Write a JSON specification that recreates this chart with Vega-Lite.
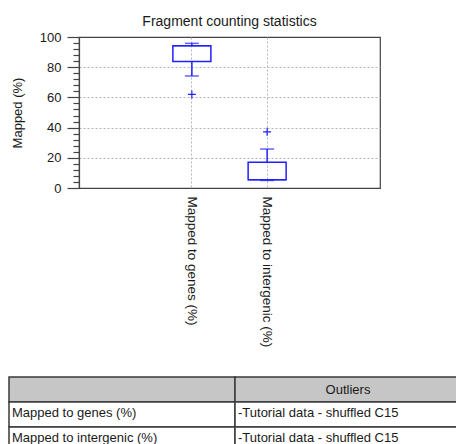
{
  "$schema": "https://vega.github.io/schema/vega-lite/v6.json",
  "padding": {"left": 8, "top": 14, "right": 0, "bottom": 0},
  "spacing": 28,
  "config": {
    "font": "Liberation Sans",
    "view": {"stroke": "#444", "strokeWidth": 1.2},
    "title": {"font": "Liberation Sans"}
  },
  "datasets": {
    "stats": [
      {"category": "Mapped to genes (%)", "lower": 74.2, "q1": 83.8, "median": 94.2, "q3": 94.2, "upper": 95.8},
      {"category": "Mapped to intergenic (%)", "lower": 5.0, "q1": 5.5, "median": 5.5, "q3": 17.0, "upper": 25.8}
    ],
    "outliers": [
      {"category": "Mapped to genes (%)", "value": 62.0},
      {"category": "Mapped to intergenic (%)", "value": 37.2}
    ],
    "table": [
      {"row": "header", "column": "name", "text": ""},
      {"row": "header", "column": "outliers", "text": "Outliers"},
      {"row": "genes", "column": "name", "text": "Mapped to genes (%)"},
      {"row": "genes", "column": "outliers", "text": "-Tutorial data - shuffled C15"},
      {"row": "intergenic", "column": "name", "text": "Mapped to intergenic (%)"},
      {"row": "intergenic", "column": "outliers", "text": "-Tutorial data - shuffled C15"}
    ]
  },
  "vconcat": [
    {
      "width": 301,
      "height": 151,
      "title": {"text": "Fragment counting statistics", "fontSize": 14, "fontWeight": "normal", "color": "#1a1a1a", "offset": 2},
      "encoding": {
        "x": {
          "field": "category", "type": "nominal",
          "scale": {"type": "band", "paddingInner": 0, "paddingOuter": 1, "domain": ["Mapped to genes (%)", "Mapped to intergenic (%)"]},
          "axis": {
            "title": null, "labelAngle": 90, "labelAlign": "left", "labelBaseline": "middle",
            "bandPosition": 0.5,
            "ticks": false, "labelPadding": 8, "domainColor": "#444", "domainWidth": 1.2,
            "grid": true, "gridDash": [2, 2], "gridColor": "#b5b5b5",
            "labelFontSize": 13.5, "labelColor": "#1a1a1a", "labelFont": "Liberation Sans"
          }
        }
      },
      "layer": [
        {
          "data": {"name": "stats"},
          "mark": {"type": "rule", "color": "#2020ff", "strokeWidth": 1.5},
          "encoding": {
            "y": {
              "field": "lower", "type": "quantitative", "title": "Mapped (%)",
              "scale": {"domain": [0, 100], "nice": false},
              "axis": {
                "values": [0, 4, 8, 12, 16, 20, 24, 28, 32, 36, 40, 44, 48, 52, 56, 60, 64, 68, 72, 76, 80, 84, 88, 92, 96, 100],
                "tickCount": 40,
                "labelExpr": "datum.value % 20 === 0 ? datum.label : ''",
                "labelOverlap": false,
                "tickSize": {"condition": {"test": "datum.value % 20 === 0", "value": 12}, "value": 6},
                "tickColor": "#444", "tickWidth": 1.2,
                "gridOpacity": {"condition": {"test": "datum.value % 20 === 0 && datum.value > 0 && datum.value < 100", "value": 1}, "value": 0},
                "gridDash": [2, 2], "gridColor": "#b5b5b5",
                "domainColor": "#444", "domainWidth": 1.2,
                "labelFontSize": 13, "labelColor": "#1a1a1a", "labelPadding": 6, "labelFont": "Liberation Sans",
                "titleFontSize": 13, "titleFontWeight": "normal", "titleColor": "#1a1a1a", "titlePadding": 15, "titleFont": "Liberation Sans"
              }
            },
            "y2": {"field": "q1"}
          }
        },
        {
          "data": {"name": "stats"},
          "mark": {"type": "rule", "color": "#2020ff", "strokeWidth": 1.5},
          "encoding": {
            "y": {"field": "q3", "type": "quantitative", "title": "Mapped (%)"},
            "y2": {"field": "upper"}
          }
        },
        {
          "data": {"name": "stats"},
          "mark": {"type": "tick", "color": "#2020ff", "size": 14, "thickness": 1.5},
          "encoding": {"y": {"field": "lower", "type": "quantitative", "title": "Mapped (%)"}}
        },
        {
          "data": {"name": "stats"},
          "mark": {"type": "tick", "color": "#2020ff", "size": 14, "thickness": 1.5},
          "encoding": {"y": {"field": "upper", "type": "quantitative", "title": "Mapped (%)"}}
        },
        {
          "data": {"name": "stats"},
          "mark": {"type": "bar", "size": 38, "fill": "transparent", "stroke": "#2020ff", "strokeWidth": 1.5},
          "encoding": {
            "y": {"field": "q1", "type": "quantitative", "title": "Mapped (%)"},
            "y2": {"field": "q3"}
          }
        },
        {
          "data": {"name": "stats"},
          "mark": {"type": "tick", "color": "#2020ff", "size": 38, "thickness": 1.5},
          "encoding": {"y": {"field": "median", "type": "quantitative", "title": "Mapped (%)"}}
        },
        {
          "data": {"name": "outliers"},
          "mark": {"type": "point", "shape": "M-1,0H1M0,-1V1", "size": 64, "filled": false, "stroke": "#2020ff", "strokeWidth": 1.2, "opacity": 1},
          "encoding": {"y": {"field": "value", "type": "quantitative", "title": "Mapped (%)"}}
        }
      ]
    },
    {
      "width": 304,
      "height": 75,
      "view": {"stroke": null},
      "data": {"name": "table"},
      "encoding": {
        "x": {
          "field": "column", "type": "nominal", "sort": ["name", "outliers"],
          "scale": {"range": [-70, 382], "paddingInner": 0, "paddingOuter": 0},
          "axis": null
        },
        "y": {
          "field": "row", "type": "nominal", "sort": ["header", "genes", "intergenic"],
          "scale": {"paddingInner": 0, "paddingOuter": 0},
          "axis": null
        }
      },
      "layer": [
        {
          "mark": {"type": "rect", "stroke": "#3a3a3a", "strokeWidth": 1.5},
          "encoding": {
            "fill": {"condition": {"test": "datum.row === 'header'", "value": "#c6c6c6"}, "value": "#ffffff"}
          }
        },
        {
          "transform": [{"filter": "datum.row === 'header'"}],
          "mark": {"type": "text", "fontSize": 13, "color": "#1a1a1a", "font": "Liberation Sans"},
          "encoding": {"text": {"field": "text"}}
        },
        {
          "transform": [{"filter": "datum.row !== 'header'"}],
          "mark": {"type": "text", "fontSize": 13, "color": "#1a1a1a", "align": "left", "dx": 3, "dy": -2, "font": "Liberation Sans"},
          "encoding": {
            "x": {"field": "column", "type": "nominal", "sort": ["name", "outliers"], "bandPosition": 0,
                  "scale": {"range": [-70, 382], "paddingInner": 0, "paddingOuter": 0}, "axis": null},
            "text": {"field": "text"}
          }
        }
      ]
    }
  ]
}
